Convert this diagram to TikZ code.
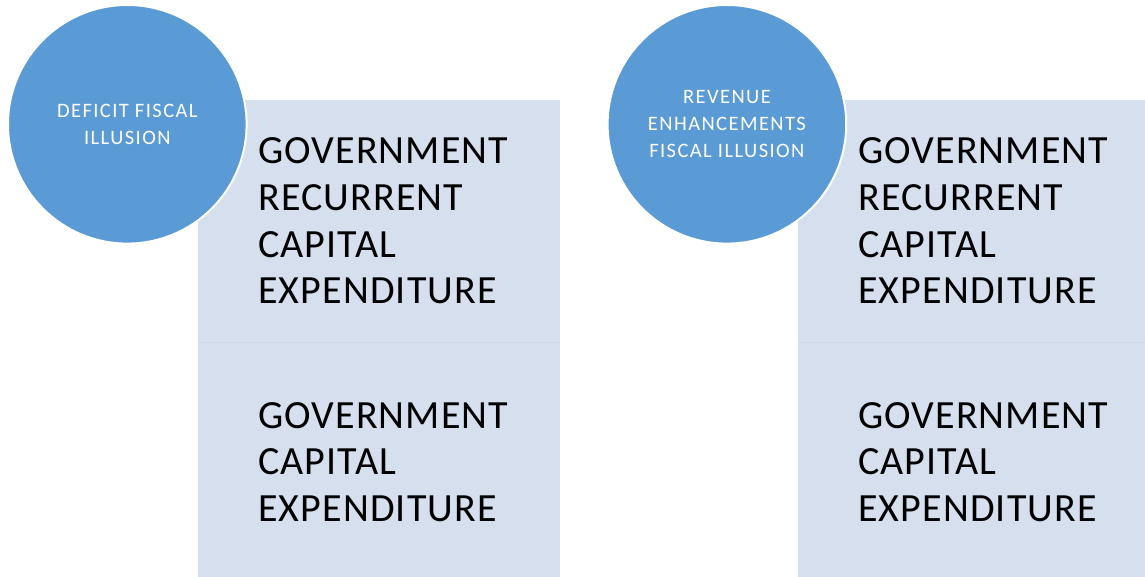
\documentclass[tikz,border=0pt]{standalone}
\usepackage{fontspec}
\setmainfont{Carlito}
\definecolor{disc}{HTML}{5B9BD5}
\definecolor{panel}{HTML}{D5DFEE}
\definecolor{seam}{HTML}{CDD8EA}
\begin{document}
\begin{tikzpicture}[x=1pt,y=-1pt,
  panelbox/.style={fill=panel, draw=none, inner sep=0pt, anchor=north west},
  discnode/.style={circle, fill=disc, draw=white, line width=2pt, inner sep=0pt,
    minimum size=238.6pt, text=white, align=center,
    font=\fontsize{20.5}{26.8}\selectfont\addfontfeature{LetterSpace=7}},
  bodytext/.style={anchor=north west, inner sep=0pt, align=left, text=black,
    font=\fontsize{40}{46.6}\selectfont\addfontfeature{LetterSpace=2.8}},
  seamline/.style={draw=seam, line width=1pt}]
\useasboundingbox (0,0) rectangle (1145,577);
\fill[white] (0,0) rectangle (1145,577);

% left column panels
\node[panelbox, minimum width=362pt, minimum height=241.7pt] (lt) at (198,100) {};
\node[panelbox, minimum width=362pt, minimum height=235.3pt] (lb) at (198,341.7) {};
\draw[seamline] (lt.south west) -- (lt.south east);

% right column panels
\node[panelbox, minimum width=347pt, minimum height=241.7pt] (rt) at (798,100) {};
\node[panelbox, minimum width=347pt, minimum height=235.3pt] (rb) at (798,341.7) {};
\draw[seamline] (rt.south west) -- (rt.south east);

% panel texts
\node[bodytext] (ltx) at (258,137.8) {GOVERNMENT\\RECURRENT\\CAPITAL\\EXPENDITURE};
\node[bodytext] (lbx) at (258,402.0) {GOVERNMENT\\CAPITAL\\EXPENDITURE};
\node[bodytext] (rtx) at (858,137.8) {GOVERNMENT\\RECURRENT\\CAPITAL\\EXPENDITURE};
\node[bodytext] (rbx) at (858,402.0) {GOVERNMENT\\CAPITAL\\EXPENDITURE};

% circles on top
\node[discnode] (lc) at (127.3,124.3) {DEFICIT FISCAL\\ILLUSION};
\node[discnode] (rc) at (726.9,124.3) {REVENUE\\ENHANCEMENTS\\FISCAL ILLUSION};
\end{tikzpicture}
\end{document}
